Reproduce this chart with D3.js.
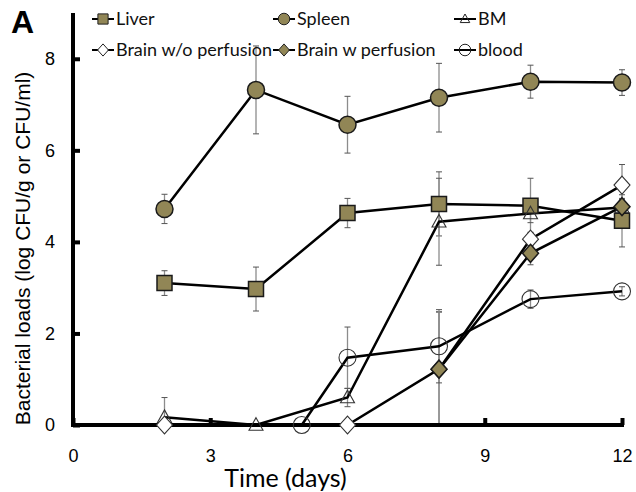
<!DOCTYPE html>
<html>
<head>
<meta charset="utf-8">
<script src="https://cdn.jsdelivr.net/npm/d3@7"></script>
<style>
  body { margin: 0; background: #fff; }
</style>
</head>
<body>
<div id="chart"></div>
<script>
// values (log CFU), with error bars
const days = [2, 4, 6, 8, 10, 12];
const brainWoDays = [2, 6, 8, 10, 12];
const brainWDays = [8, 10, 12];
const bloodDays = [5, 6, 8, 10, 12];

const liver = [3.10, 2.97, 4.63, 4.83, 4.79, 4.46];
const liverErr = [0.27, 0.48, 0.32, 0.70, 0.60, 0.57];
const spleen = [4.72, 7.32, 6.56, 7.15, 7.50, 7.48];
const spleenErr = [0.32, 0.96, 0.62, 0.75, 0.36, 0.28];
const bm = [0.17, 0, 0.60, 4.44, 4.62, 4.75];
const bmErr = [0.43, 0, 0.20, 0.95, 0.20, 0.20];
const brainWo = [0, 0, 1.22, 4.06, 5.24];
const brainWoErr = [0, 0, 1.25, 0.15, 0.45];
const brainW = [1.22, 3.75, 4.77];
const brainWErr = [1.25, 0.25, 0.15];
const blood = [0, 1.47, 1.72, 2.75, 2.92];
const bloodErr = [0, 0.67, 0.80, 0.20, 0.10];

const xTicks = [0, 3, 6, 9, 12];
const yTicks = [0, 2, 4, 6, 8];

const olive = "#918656";

const series = [
    { name: "Liver", x: days, y: liver, err: liverErr, shape: "square", fill: olive },
    { name: "Spleen", x: days, y: spleen, err: spleenErr, shape: "circle", fill: olive },
    { name: "BM", x: days, y: bm, err: bmErr, shape: "triangle", fill: "none" },
    { name: "Brain w/o perfusion", x: brainWoDays, y: brainWo, err: brainWoErr, shape: "diamond", fill: "white" },
    { name: "Brain w perfusion", x: brainWDays, y: brainW, err: brainWErr, shape: "diamond", fill: olive },
    { name: "blood", x: bloodDays, y: blood, err: bloodErr, shape: "circle", fill: "none" }
];

const width = 636, height = 492;
const left = 73, right = 622, bottom = 425;

const x = d3.scaleLinear().domain([0, 12]).range([left, right]);
const y = d3.scaleLinear().domain([0, 9]).range([bottom, 13]);

const svg = d3.select("#chart")
    .append("svg")
    .attr("width", width)
    .attr("height", height);

// marker shapes, r = half width
function shapePath(shape, r) {
    if (shape === "square") return `M${-r},${-r}H${r}V${r}H${-r}Z`;
    if (shape === "circle") return d3.symbol().type(d3.symbolCircle).size(Math.PI * r * r)();
    if (shape === "triangle") return `M0,${-r * 1.05}L${r},${r * 0.75}H${-r}Z`;
    if (shape === "diamond") return `M0,${-r * 1.12}L${r},0L0,${r * 1.12}L${-r},0Z`;
}
const markerR = { square: 7.5, circle: 8.5, triangle: 7, diamond: 8 };

// error bars
const errG = svg.append("g");
series.forEach(s => {
    s.x.forEach((xv, i) => {
        if (!s.err[i]) return;
        const lo = y(Math.max(0, s.y[i] - s.err[i])), hi = y(s.y[i] + s.err[i]);
        const cx = x(xv);
        errG.append("line")
            .attr("x1", cx).attr("x2", cx).attr("y1", lo).attr("y2", hi)
            .attr("stroke", "#8c8c8c").attr("stroke-width", 1.3);
        [lo, hi].forEach(v => errG.append("line")
            .attr("x1", cx - 3).attr("x2", cx + 3).attr("y1", v).attr("y2", v)
            .attr("stroke", "#555").attr("stroke-width", 1));
    });
});

// lines
const line = d3.line().x(d => x(d[0])).y(d => y(d[1]));
series.forEach(s => {
    svg.append("path")
        .datum(s.x.map((xv, i) => [xv, s.y[i]]))
        .attr("fill", "none")
        .attr("stroke", "black")
        .attr("stroke-width", 2.5)
        .attr("d", line);
});

// axes
const xAxis = svg.append("g")
    .attr("transform", `translate(0,${bottom})`)
    .call(d3.axisBottom(x).tickValues(xTicks).tickSizeInner(-7).tickSizeOuter(0).tickPadding(24));
const yAxis = svg.append("g")
    .attr("transform", `translate(${left},0)`)
    .call(d3.axisLeft(y).tickValues(yTicks).tickSizeInner(-7).tickSizeOuter(0).tickPadding(18));
[xAxis, yAxis].forEach(a => {
    a.select(".domain").attr("stroke", "black").attr("stroke-width", 4);
    a.selectAll(".tick line").attr("stroke", "black").attr("stroke-width", 4);
    a.selectAll(".tick text")
        .style("font-family", "'Liberation Sans', Arial, sans-serif")
        .style("font-size", "18px")
        .attr("fill", "black");
});
yAxis.select(".domain").attr("d", `M0,${y(9)}V${bottom + 2}`);
xAxis.select(".domain").attr("d", `M${left - 2},0H${right + 2}`);

// markers
series.forEach(s => {
    svg.append("g").selectAll("path")
        .data(s.x.map((xv, i) => [xv, s.y[i]]))
        .enter().append("path")
        .attr("transform", d => `translate(${x(d[0])},${y(d[1])})`)
        .attr("d", shapePath(s.shape, markerR[s.shape]))
        .attr("fill", s.fill)
        .attr("stroke", s.fill === olive ? "#1a1a1a" : "#333")
        .attr("stroke-width", s.fill === olive ? 1.5 : 1.1);
});

// legend
const legendPos = [[92, 19], [273, 19], [454, 19], [92, 50], [273, 50], [454, 50]];
series.forEach((s, i) => {
    const [lx, ly] = legendPos[i];
    const g = svg.append("g").attr("transform", `translate(${lx},${ly})`);
    g.append("line").attr("x1", 0).attr("x2", 22).attr("y1", 0).attr("y2", 0)
        .attr("stroke", "black").attr("stroke-width", 2);
    g.append("path")
        .attr("transform", "translate(11,0)")
        .attr("d", shapePath(s.shape, markerR[s.shape] * 0.68))
        .attr("fill", s.fill)
        .attr("stroke", "#222").attr("stroke-width", 1);
    g.append("text")
        .attr("x", 24).attr("y", 0).attr("dy", "0.35em")
        .style("font-family", "Lato, 'Open Sans', sans-serif")
        .style("font-size", "18px")
        .attr("fill", "#111")
        .text(s.name);
});

// axis titles
svg.append("text")
    .attr("x", (left + right) / 2 - 62).attr("y", 487)
    .attr("text-anchor", "middle")
    .style("font-family", "Lato, 'Open Sans', sans-serif")
    .style("font-size", "25px")
    .text("Time (days)");

svg.append("text")
    .attr("transform", `translate(30,${(bottom + 62) / 2 + 5}) rotate(-90)`)
    .attr("text-anchor", "middle")
    .style("font-family", "'Liberation Sans', Arial, sans-serif")
    .style("font-size", "21px")
    .text("Bacterial loads (log CFU/g or CFU/ml)");

svg.append("text")
    .attr("x", 11).attr("y", 33)
    .style("font-family", "'Liberation Sans', Arial, sans-serif")
    .style("font-size", "32px")
    .style("font-weight", "bold")
    .text("A");
</script>
</body>
</html>
